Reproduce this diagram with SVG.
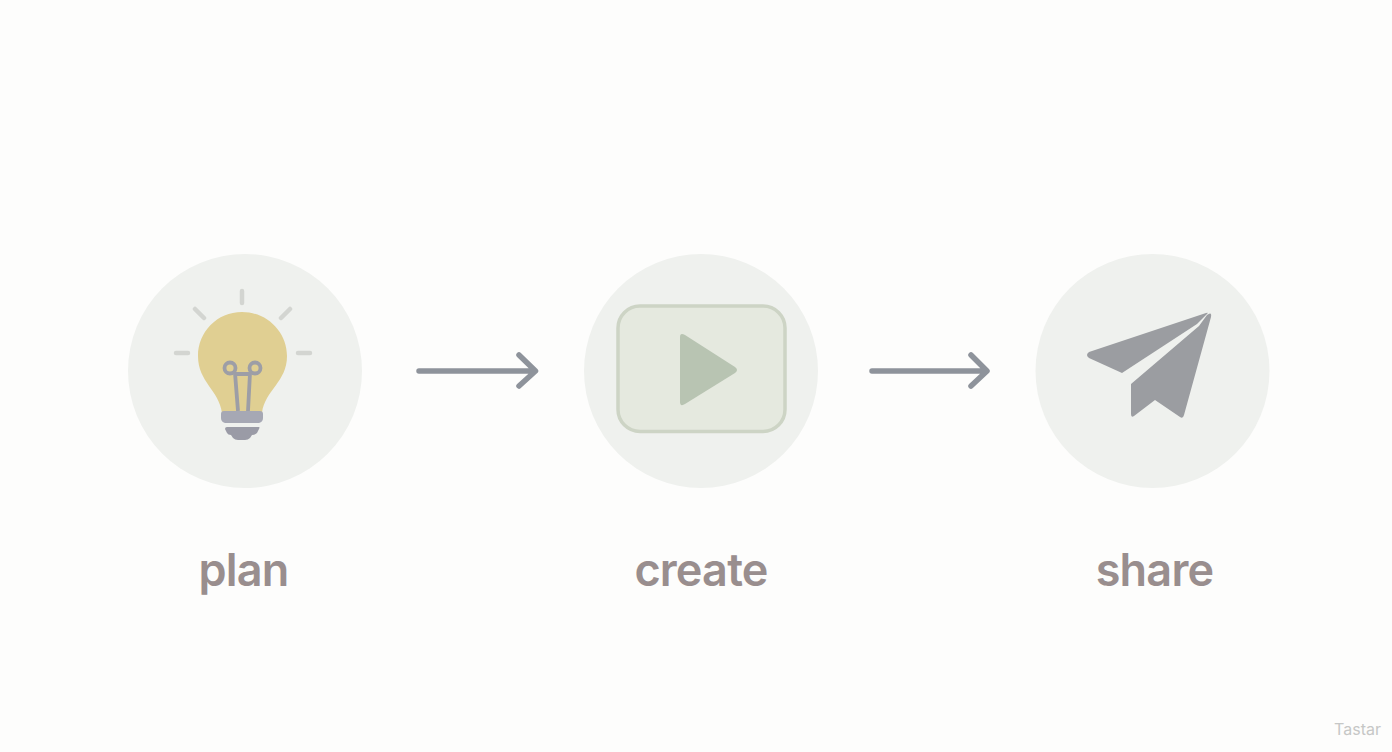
<svg xmlns="http://www.w3.org/2000/svg" width="1392" height="752" viewBox="0 0 1392 752">
<defs>
<style>
.disc{fill:#eff1ee}
.label{font-family:Inter,"Liberation Sans",sans-serif;font-size:45px;font-weight:600;letter-spacing:-0.8px;fill:#998e8e;text-anchor:middle}
.conn{fill:none;stroke:#8e939b;stroke-width:5.500;stroke-linecap:round;stroke-linejoin:round}
.ray{fill:none;stroke:#d3d5d1;stroke-width:4.500;stroke-linecap:round}
.wire{fill:none;stroke:#9d9ea6;stroke-width:3.800}
</style>
</defs>
<rect width="1392" height="752" fill="#fdfdfc"/>
<g id="connectors">
<path class="conn" d="M419 371H534M519 355L535.500 371L519 386"/>
<path class="conn" d="M872 371H985M971 355L987 371L971 386"/>
</g>
<g id="plan">
<circle class="disc" cx="245" cy="371" r="117"/>
<path class="ray" d="M242 291V303M195 309L204 318M290 309L281 318M176 353H188M298 353H310"/>
<path d="M242 312C217 312 198 332 198 356C198 382 219 390 222 413H262C265 390 287 382 287 356C287 332 267 312 242 312Z" fill="#e0cf92"/>
<circle class="wire" cx="230" cy="368" r="5.500"/>
<circle class="wire" cx="255" cy="368" r="5.500"/>
<path class="wire" d="M235 374H250M235 373L238 411M250 373L248 411"/>
<path d="M224 411H260Q263 411 263 414V418Q263 422 259 423H225Q221 422 221 418V414Q221 411 224 411Z" fill="#a6a8b4"/>
<path d="M227 427H259Q260 427 259 429L257 433Q255 435 252 435L250 438Q248 440 245 440H238Q235 440 233 438L231 435Q228 435 227 433L225 429Q225 427 227 427Z" fill="#9a9ba6"/>
<text class="label" x="243.500" y="586">plan</text>
</g>
<g id="create">
<circle class="disc" cx="701" cy="371" r="117"/>
<rect x="618" y="306" width="167" height="125.500" rx="22" fill="#e5e9df" stroke="#cdd4c5" stroke-width="3.500"/>
<path d="M680 337Q680 332 685 335L735 367Q739 370 735 373L685 404Q680 407 680 402Z" fill="#b8c4b2"/>
<text class="label" x="701" y="586">create</text>
</g>
<g id="share">
<circle class="disc" cx="1152.500" cy="371" r="117"/>
<path d="M1089 352L1206 313Q1209 312 1207 314L1197 324L1122 373L1089 358Q1085 355 1089 352Z" fill="#9b9da1"/>
<path d="M1131 384L1199 326L1207 315Q1212 311 1211 317L1184 415Q1183 419 1180 417L1155 400L1134 416Q1131 418 1131 414Z" fill="#9b9da1"/>
<text class="label" x="1154.500" y="586">share</text>
</g>
<text x="1357.500" y="735" font-family="Inter,'Liberation Sans',sans-serif" font-size="16" fill="#c6c7c6" text-anchor="middle">Tastar</text>
</svg>
